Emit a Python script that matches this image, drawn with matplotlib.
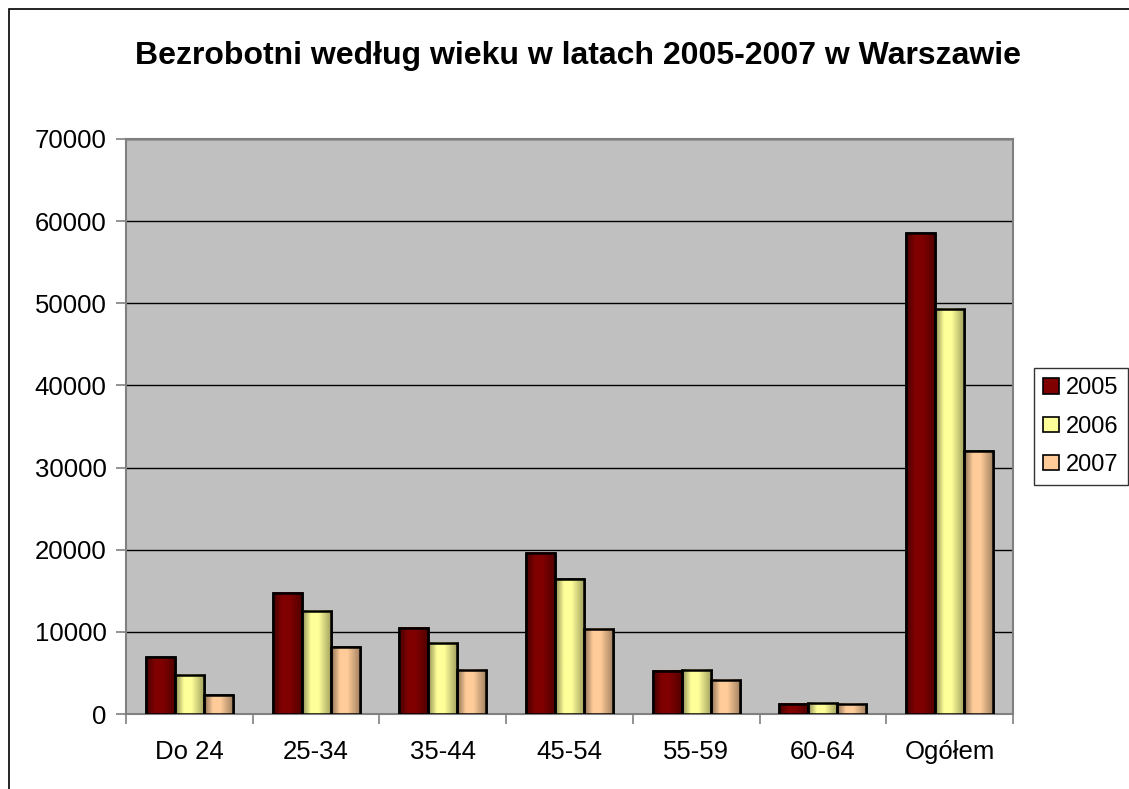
import matplotlib
matplotlib.use("Agg")
import matplotlib.pyplot as plt
import numpy as np
from matplotlib.colors import LinearSegmentedColormap
from matplotlib.patches import Rectangle, Patch

categories = ["Do 24", "25-34", "35-44", "45-54", "55-59", "60-64", "Ogółem"]
years = ["2005", "2006", "2007"]
v2005 = [6900, 14750, 10500, 19650, 5280, 1220, 58550]
v2006 = [4750, 12600, 8700, 16400, 5400, 1380, 49320]
v2007 = [2300, 8100, 5400, 10380, 4150, 1260, 31980]
series = [v2005, v2006, v2007]
colors = ["#800000", "#FFFF99", "#FFCC99"]
title = "Bezrobotni według wieku w latach 2005-2007 w Warszawie"

plt.rcParams['font.family'] = ['Liberation Sans', 'DejaVu Sans']

fig = plt.figure(figsize=(11.29, 7.89), dpi=100)
fig.patch.set_facecolor("white")
# outer chart border: only left and top edges are visible in the image
fig.add_artist(Rectangle((8.5/1129, -0.05), 1.2, 1 - 8.5/789 + 0.05,
                         transform=fig.transFigure, fill=False, edgecolor="black", lw=1.2))

ax = fig.add_axes([126/1129, 1 - 714/789, (1013 - 126)/1129, (714 - 139)/789])
ax.set_facecolor("#C0C0C0")

n = len(categories)
x = np.arange(n)
w = 0.229
offsets = [-w, 0, w]

def shade_cmap(c):
    rgb = np.array(matplotlib.colors.to_rgb(c))
    return LinearSegmentedColormap.from_list(
        "s", [(0.0, rgb * 0.55), (0.3, rgb), (0.55, rgb), (1.0, rgb * 0.62)], N=256)

for i, (vals, col) in enumerate(zip(series, colors)):
    bars = ax.bar(x + offsets[i], vals, width=w, color=col, edgecolor="black",
                  linewidth=1.8, label=years[i], zorder=3)
    cmap = shade_cmap(col)
    grad = np.linspace(0, 1, 64).reshape(1, -1)
    for b in bars:
        x0, y0 = b.get_x(), b.get_y()
        ax.imshow(grad, cmap=cmap, extent=[x0, x0 + b.get_width(), y0, y0 + b.get_height()],
                  aspect="auto", zorder=3.5, interpolation="bilinear")
        ax.add_patch(Rectangle((x0, y0), b.get_width(), b.get_height(),
                               fill=False, edgecolor="black", lw=1.8, zorder=4))

ax.set_xlim(-0.5, n - 0.5)
ax.set_ylim(0, 70000)
ax.set_yticks(np.arange(0, 70001, 10000))
ax.yaxis.grid(True, color="black", lw=1.0, zorder=1)
ax.set_axisbelow(True)

ax.set_xticks(x)
ax.set_xticklabels(categories, fontsize=18.5)
ax.set_xticks(np.arange(-0.5, n, 1), minor=True)
ax.tick_params(axis="x", which="major", length=0, pad=19)
ax.tick_params(axis="x", which="minor", length=7, color="#808080", width=1.2)
ax.tick_params(axis="y", length=7, color="#808080", width=1.2, labelsize=18.5, pad=7)

for s in ["top", "right", "left", "bottom"]:
    ax.spines[s].set_color("#808080")
    ax.spines[s].set_linewidth(1.5)

handles = [Patch(facecolor=c, edgecolor="black", lw=1.2) for c in colors]
leg = fig.legend(handles, years, loc="upper left", bbox_to_anchor=(1034/1129, 1 - 368/789),
                 fontsize=17, frameon=True, fancybox=False, edgecolor="black",
                 handlelength=0.65, handleheight=0.62, handletextpad=0.3,
                 borderpad=0.4, labelspacing=0.68, borderaxespad=0)
leg.get_frame().set_linewidth(1.0)

fig.text(578 / 1129, 1 - 56/789, title, ha="center", va="center",
         fontsize=23, fontweight="bold")

fig.savefig("out.png", dpi=100)
